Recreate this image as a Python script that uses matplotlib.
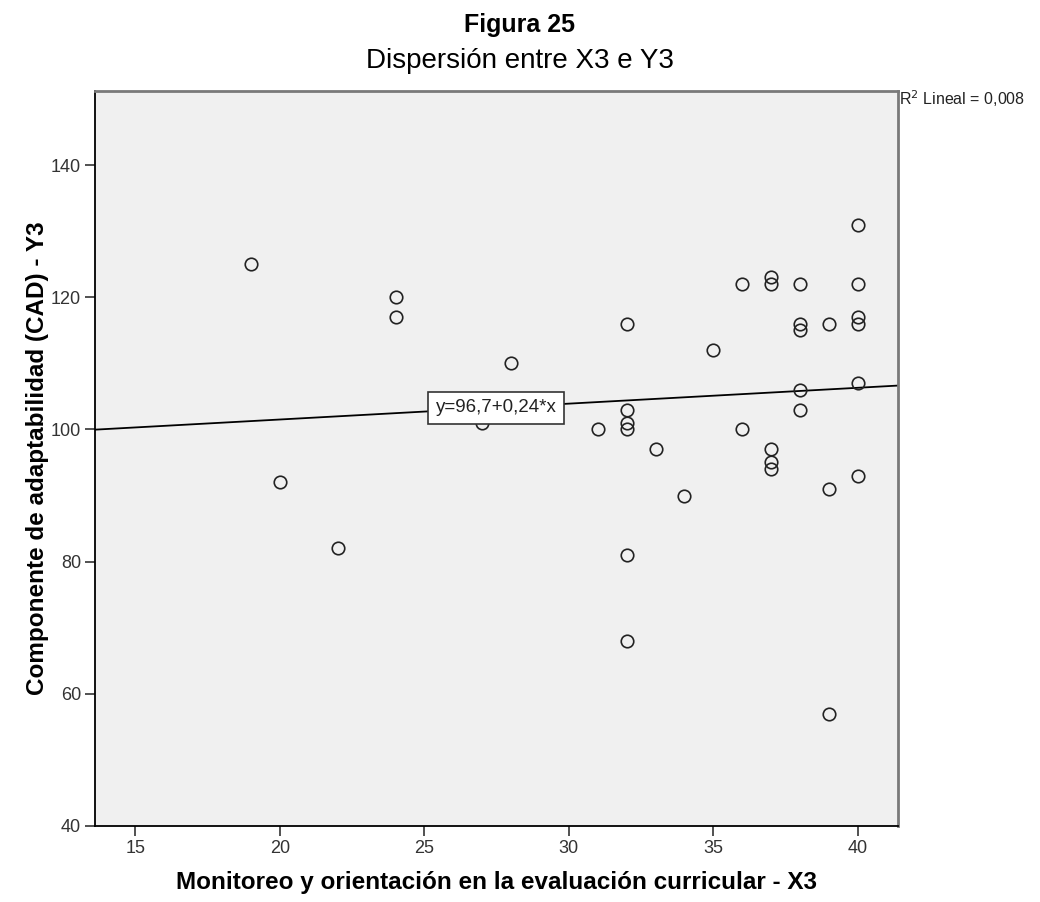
import matplotlib
matplotlib.use("Agg")
import matplotlib.pyplot as plt
import numpy as np

# Data (X3 vs Y3)
x3 = [19, 20, 22, 24, 24, 27, 28, 31,
      32, 32, 32, 32, 32, 32,
      33, 34, 35, 36, 36,
      37, 37, 37, 37, 37,
      38, 38, 38, 38, 38,
      39, 39, 39,
      40, 40, 40, 40, 40, 40]
y3 = [125, 92, 82, 120, 117, 101, 110, 100,
      116, 103, 101, 100, 81, 68,
      97, 90, 112, 122, 100,
      123, 122, 97, 95, 94,
      122, 116, 115, 106, 103,
      116, 91, 57,
      131, 122, 117, 116, 107, 93]

intercept = 96.7
slope = 0.24
r2_text = "R$^2$ Lineal = 0,008"
fit_text = "y=96,7+0,24*x"
x_ticks = [15, 20, 25, 30, 35, 40]
y_ticks = [40, 60, 80, 100, 120, 140]

fonts = ['Liberation Sans', 'DejaVu Sans']

fig = plt.figure(figsize=(10.4, 9.02), dpi=100)
ax = fig.add_axes([95 / 1040, 1 - 826 / 902, (897.7 - 95) / 1040, (826 - 91) / 902])
ax.set_facecolor('#f0f0f0')

xlim = (13.6, 41.38)
ylim = (40, 151.2)
ax.set_xlim(*xlim)
ax.set_ylim(*ylim)

# fit line across the whole plot area
xx = np.array(xlim)
ax.plot(xx, intercept + slope * xx, color='black', lw=1.3, zorder=2)

ax.plot(x3, y3, linestyle='none', marker='o', markersize=9,
        markerfacecolor='none', markeredgecolor='#222222',
        markeredgewidth=1.2, zorder=3)

# equation label sitting on the line
xl = 27.48
ax.text(xl, intercept + slope * xl, fit_text, ha='center', va='center',
        fontsize=13.5, family=fonts, color='#222222', zorder=4,
        bbox=dict(boxstyle='square,pad=0.4', facecolor='white',
                  edgecolor='#333333', linewidth=1.2))

ax.set_xticks(x_ticks)
ax.set_yticks(y_ticks)
ax.tick_params(direction='out', length=7, width=1.2, color='#333333',
               labelsize=13, labelcolor='#333333', pad=3)
for lab in ax.get_xticklabels() + ax.get_yticklabels():
    lab.set_family(fonts)

for side in ['left', 'bottom']:
    ax.spines[side].set_color('black')
    ax.spines[side].set_linewidth(1.3)
for side in ['top', 'right']:
    ax.spines[side].set_color('#7a7a7a')
    ax.spines[side].set_linewidth(2)

ax.set_xlabel('Monitoreo y orientación en la evaluación curricular - X3',
              fontsize=17.5, fontweight='bold', family=fonts)
ax.set_ylabel('Componente de adaptabilidad (CAD) - Y3',
              fontsize=17.5, fontweight='bold', family=fonts)
ax.xaxis.set_label_coords(0.5, -(883 - 826) / (826 - 91), transform=ax.transAxes)
ax.xaxis.label.set_va('center')
ax.yaxis.set_label_coords(-(95 - 38) / (897.7 - 95), 0.5, transform=ax.transAxes)
ax.yaxis.label.set_va('center')

fig.text(0.5, 1 - 25 / 902, 'Figura 25', ha='center', va='center',
         fontsize=18, fontweight='bold', family=fonts)
fig.text(0.5, 1 - 61 / 902, 'Dispersión entre X3 e Y3', ha='center',
         va='center', fontsize=20, family=fonts)

fig.text(899 / 1040, 1 - 99 / 902, r2_text, ha='left', va='center',
         fontsize=11.5, family=fonts, color='#222222')

fig.savefig('out.png', dpi=100, facecolor='white')
